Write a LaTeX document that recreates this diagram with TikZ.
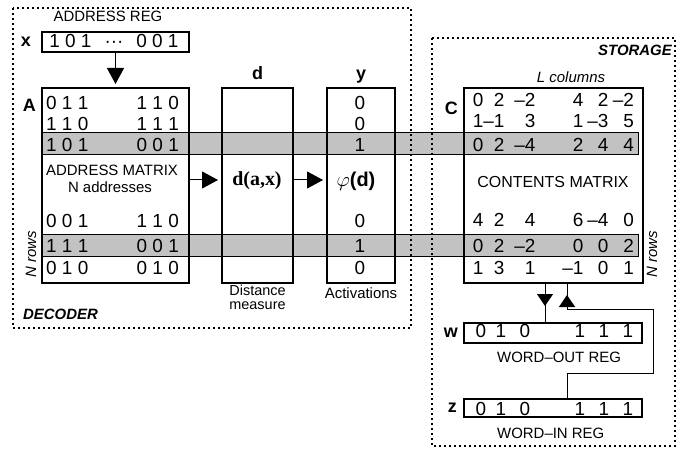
\documentclass[tikz,border=0pt]{standalone}
\usepackage{fontspec}
\setmainfont{Liberation Sans}
\newfontfamily\timesfont{Liberation Serif}
\usepackage{xcolor}
\usepackage{tikz}
\usetikzlibrary{arrows.meta, positioning}
\definecolor{bandgray}{RGB}{194,194,194}
\newcommand{\mn}{\textendash}
\newcommand{\tdots}{\textperiodcentered\textperiodcentered\textperiodcentered}

\begin{document}
\begin{tikzpicture}[x=1bp, y=-1bp, node distance=3bp,
    box/.style={draw, line width=2bp, inner sep=0pt},
    zone/.style={draw, line width=2bp, dash pattern=on 2bp off 3bp},
    band/.style={draw, line width=1bp, fill=bandgray},
    digits/.style={font=\fontsize{19}{21}\selectfont, inner sep=0pt, anchor=base},
    lbl/.style={font=\fontsize{18}{20}\selectfont\bfseries, inner sep=0pt},
    note/.style={font=\fontsize{15}{12}\selectfont, inner sep=0pt},
    notei/.style={font=\fontsize{15}{12}\selectfont\itshape, inner sep=0pt},
    notebi/.style={font=\fontsize{15}{12}\selectfont\bfseries\itshape, inner sep=0pt},
    link/.style={line width=1bp},
    head/.style={line width=1bp, -{Triangle[length=16bp, width=17bp]}, shorten >=3bp},
    smallhead/.style={line width=1bp, -{Triangle[length=12bp, width=16bp]}}]
    \useasboundingbox (0,0) rectangle (684,449);

    % selected rows
    \draw[band] (42,133) rectangle (638,155);
    \draw[band] (42,235) rectangle (638,257);

    \node[box, minimum width=147bp, minimum height=20bp] (xreg) at (115.5,42) {};
    \node[box, minimum width=147bp, minimum height=195bp] (amat) at (115.5,185.5) {};
    \node[box, minimum width=71bp, minimum height=195bp] (dbox) at (257.5,185.5) {};
    \node[box, minimum width=68bp, minimum height=195bp] (ybox) at (361,185.5) {};
    \node[box, minimum width=179bp, minimum height=195bp] (cmat) at (553.5,185.5) {};
    \node[box, minimum width=178bp, minimum height=20bp] (wreg) at (553,333) {};
    \node[box, minimum width=178bp, minimum height=18bp] (zreg) at (553,408) {};

    \draw[zone] (13,8) rectangle (411,328);
    \draw[zone] (432,38) rectangle (675,446);

    \node[lbl, left=10bp of xreg] (xlab) {x};
    \node[lbl, anchor=east] (alab) at (36,105) {A};
    \node[lbl, anchor=base] (dlab) at (257.5,80) {d};
    \node[lbl, anchor=base] (ylab) at (361,80) {y};
    \node[lbl, anchor=east] (clab) at (458,108) {C};
    \node[lbl, left=5bp of wreg] (wlab) {w};
    \node[lbl, left=6bp of zreg] (zlab) {z};

    \node[digits] (xbits) at (114,47.5) {1 0 1\hspace{13bp}\tdots\hspace{13bp}0 0 1};

    \foreach \lft/\rgt/\yy [count=\i] in {0 1 1/1 1 0/110, 1 1 0/1 1 1/131, 1 0 1/0 0 1/152,
        0 0 1/1 1 0/228, 1 1 1/0 0 1/253, 0 1 0/0 1 0/275} {
        \node[digits, anchor=base west] (al\i) at (46,\yy) {\lft};
        \node[digits, anchor=base east] (ar\i) at (179,\yy) {\rgt};
    }

    \foreach \v/\yy [count=\i] in {0/110, 0/131, 1/152, 0/228, 1/253, 0/275}
        \node[digits] (yv\i) at (360,\yy) {\v};

    \foreach \ca/\cb/\cc/\cd/\ce/\cf/\yy [count=\i] in {0/2/\mn2/4/2/\mn2/107, 1/\mn1/3/1/\mn3/5/128,
        0/2/\mn4/2/4/4/152, 4/2/4/6/\mn4/0/227, 0/2/\mn2/0/0/2/253, 1/3/1/\mn1/0/1/275} {
        \foreach \v/\xx [count=\j] in {\ca/483.5, \cb/504.5, \cc/535.5, \cd/583.5, \ce/608.5, \cf/634}
            \node[digits, anchor=base east] (c\i-\j) at (\xx,\yy) {\v};
    }

    \foreach \v/\xx [count=\j] in {0/481, 1/501, 0/525, 1/580, 1/604, 1/628} {
        \node[digits] (w\j) at (\xx,338) {\v};
        \node[digits] (z\j) at (\xx,415) {\v};
    }

    \node[note, anchor=base] (areg) at (108,22) {ADDRESS REG};
    \node[note, anchor=base west] (amlab) at (46,176) {ADDRESS MATRIX};
    \node[note, anchor=base] (naddr) at (110,193) {N addresses};
    \node[notei, rotate=90] (nrowsa) at (31,254) {N rows};
    \node[notebi, anchor=base west] (dec) at (23,320) {DECODER};
    \node[note, font=\fontsize{14.5}{14}\selectfont, below=1bp of dbox, align=center] (dmeas) {Distance\\measure};
    \node[note, below=3bp of ybox] (act) {Activations};
    \node[inner sep=0pt, font=\fontsize{20}{22}\selectfont\timesfont\bfseries] (dax) at (257,181) {d(a,x)};
    \node[inner sep=0pt, font=\fontsize{20}{22}\selectfont] (phid) at (356,181) {$\varphi$\textbf{(d)}};

    \node[notebi, anchor=base east] (stor) at (672,56) {STORAGE};
    \node[notei, anchor=base] (lcol) at (571,83) {L columns};
    \node[note, font=\fontsize{16}{12}\selectfont, anchor=base] (cmlab) at (553,188) {CONTENTS MATRIX};
    \node[notei, rotate=90] (nrowsc) at (652,254) {N rows};
    \node[note, anchor=base west] (wout) at (497,362) {WORD\textendash OUT REG};
    \node[note, anchor=base west] (win) at (497,438) {WORD\textendash IN REG};

    \coordinate (arow) at (0,180);
    \coordinate (outx) at (545,0);
    \coordinate (inx) at (567,0);
    \coordinate (loopa) at (653,373);
    \coordinate (loopb) at (567,310);

    \draw[head] (xreg.south) -- (amat.north);
    \draw[head] (amat.east |- arow) -- (dbox.west |- arow);
    \draw[head] (dbox.east |- arow) -- (ybox.west |- arow);

    \draw[link] (cmat.south -| outx) -- (wreg.north -| outx);
    \draw[smallhead] (cmat.south -| outx) -- ++(0,22);
    \draw[link] (zreg.north -| inx) |- (loopa) |- (loopb) -- (cmat.south -| inx);
    \draw[smallhead] (loopb) -- ++(0,-15);
\end{tikzpicture}
\end{document}
